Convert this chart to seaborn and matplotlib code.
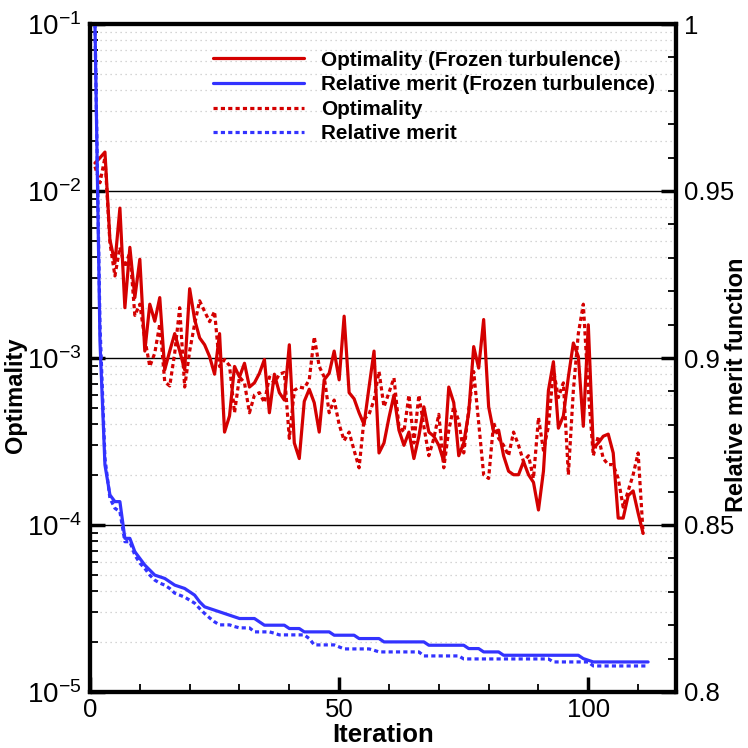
import numpy as np
import pandas as pd
import matplotlib
matplotlib.use("Agg")
import matplotlib.pyplot as plt
import seaborn as sns
from matplotlib.ticker import LogLocator, FixedLocator, MultipleLocator, NullFormatter, LogFormatterMathtext, FuncFormatter
from matplotlib.lines import Line2D

sns.set_theme(style="white")
plt.rcParams['font.family'] = ['Liberation Sans', 'DejaVu Sans']
plt.rcParams['mathtext.fontset'] = 'custom'
plt.rcParams['mathtext.rm'] = 'Liberation Sans'
plt.rcParams['mathtext.it'] = 'Liberation Sans'
plt.rcParams['mathtext.bf'] = 'Liberation Sans:bold'
plt.rcParams['mathtext.default'] = 'regular'

# ---------------- data ----------------
iter_red = np.arange(1, 112)
opt_frozen = [0.0147, 0.0158, 0.0171, 0.0051, 0.0037, 0.0079, 0.0020, 0.0046, 0.0023, 0.0039,
              0.0011, 0.0021, 0.00166, 0.0023, 0.00085, 0.0011, 0.0014, 0.0011, 0.00085, 0.0026,
              0.0017, 0.00132, 0.0012, 0.00102, 0.0008, 0.0014, 0.00036, 0.00045, 0.00089, 0.00077,
              0.00093, 0.00067, 0.00071, 0.00081, 0.00098, 0.00047, 0.0008, 0.00062, 0.00056, 0.0012,
              0.00031, 0.00025, 0.00055, 0.00065, 0.00054, 0.00036, 0.00074, 0.00081, 0.0011, 0.00074,
              0.00178, 0.00062, 0.00057, 0.00047, 0.0004, 0.00067, 0.0011, 0.00027, 0.00031, 0.00044,
              0.0006, 0.00037, 0.0003, 0.00036, 0.00025, 0.00034, 0.00051, 0.00036, 0.00034, 0.0003,
              0.00024, 0.00067, 0.00054, 0.00026, 0.00031, 0.00047, 0.00117, 0.00087, 0.0017, 0.00051,
              0.00036, 0.00037, 0.00026, 0.00021, 0.0002, 0.0002, 0.00024, 0.0002, 0.00018, 0.000123,
              0.00021, 0.00064, 0.00095, 0.00038, 0.00045, 0.00077, 0.00123, 0.00102, 0.00039, 0.00158,
              0.00029, 0.00031, 0.00034, 0.00035, 0.00027, 0.00011, 0.00011, 0.00015, 0.00016, 0.000118,
              0.000089]
opt_full = [0.014, 0.0112, 0.0159, 0.0049, 0.0031, 0.0046, 0.0035, 0.0043, 0.0018, 0.0021,
            0.0013, 0.00089, 0.00107, 0.0016, 0.00072, 0.00068, 0.00107, 0.002, 0.00067, 0.0011,
            0.0016, 0.0022, 0.0019, 0.00165, 0.0019, 0.00089, 0.00098, 0.0009, 0.00047, 0.00077,
            0.00071, 0.00047, 0.0006, 0.00062, 0.00054, 0.00077, 0.00071, 0.0008, 0.00082, 0.00033,
            0.00064, 0.00067, 0.00066, 0.00074, 0.00134, 0.00089, 0.00077, 0.00047, 0.00056, 0.0004,
            0.00032, 0.00036, 0.00028, 0.00022, 0.00043, 0.00046, 0.00056, 0.00083, 0.00051, 0.00062,
            0.00076, 0.00039, 0.00036, 0.0006, 0.00031, 0.0006, 0.00039, 0.00026, 0.00033, 0.00046,
            0.00022, 0.00037, 0.00051, 0.00042, 0.00027, 0.00049, 0.00083, 0.00041, 0.0002, 0.00019,
            0.00041, 0.00033, 0.0003, 0.00026, 0.00036, 0.0003, 0.00024, 0.00026, 0.00019, 0.00044,
            0.00028, 0.00039, 0.00085, 0.00058, 0.00071, 0.0002, 0.00064, 0.0014, 0.0021, 0.00064,
            0.00026, 0.00034, 0.00025, 0.00023, 0.00023, 0.00019, 0.000128, 0.00016, 0.0002, 0.00027,
            0.000089]

iter_blue = np.arange(1, 113)
merit_frozen = [1.0, 0.905, 0.868, 0.859, 0.857, 0.857, 0.846, 0.846, 0.842, 0.840,
                0.838, 0.8365, 0.835, 0.8345, 0.834, 0.833, 0.832, 0.8315, 0.831, 0.830,
                0.829, 0.827, 0.8255, 0.825, 0.8245, 0.824, 0.8235, 0.823, 0.8225, 0.822,
                0.822, 0.822, 0.822, 0.821, 0.820, 0.820, 0.820, 0.820, 0.820, 0.819,
                0.819, 0.819, 0.818, 0.818, 0.818, 0.818, 0.818, 0.818, 0.817, 0.817,
                0.817, 0.817, 0.817, 0.816, 0.816, 0.816, 0.816, 0.816, 0.815, 0.815,
                0.815, 0.815, 0.815, 0.815, 0.815, 0.815, 0.815, 0.814, 0.814, 0.814,
                0.814, 0.814, 0.814, 0.814, 0.814, 0.813, 0.813, 0.813, 0.812, 0.812,
                0.812, 0.812, 0.811, 0.811, 0.811, 0.811, 0.811, 0.811, 0.811, 0.811,
                0.811, 0.811, 0.811, 0.811, 0.811, 0.811, 0.811, 0.811, 0.810, 0.8095,
                0.809, 0.809, 0.809, 0.809, 0.809, 0.809, 0.809, 0.809, 0.809, 0.809,
                0.809, 0.809]
merit_full = [1.0, 0.91, 0.87, 0.858, 0.855, 0.854, 0.845, 0.845, 0.841, 0.8386,
              0.837, 0.835, 0.8335, 0.8326, 0.832, 0.831, 0.8296, 0.829, 0.8284, 0.8275,
              0.8266, 0.825, 0.8235, 0.8222, 0.821, 0.8201, 0.8201, 0.8201, 0.8196, 0.8192,
              0.8192, 0.8192, 0.818, 0.818, 0.818, 0.818, 0.8176, 0.8171, 0.8171, 0.8171,
              0.8171, 0.8171, 0.8171, 0.816, 0.8141, 0.8141, 0.8141, 0.8141, 0.8141, 0.8135,
              0.8129, 0.8129, 0.8129, 0.8129, 0.8129, 0.8129, 0.8125, 0.812, 0.812, 0.812,
              0.812, 0.812, 0.812, 0.812, 0.812, 0.812, 0.8108, 0.8108, 0.8108, 0.8108,
              0.8108, 0.8108, 0.8108, 0.8108, 0.8099, 0.8099, 0.8099, 0.8099, 0.8099, 0.8099,
              0.8099, 0.8099, 0.8099, 0.8099, 0.8099, 0.8099, 0.8099, 0.8099, 0.8099, 0.8099,
              0.8099, 0.8099, 0.809, 0.809, 0.809, 0.809, 0.809, 0.809, 0.809, 0.809,
              0.8078, 0.8078, 0.8078, 0.8078, 0.8078, 0.8078, 0.8078, 0.8078, 0.8078, 0.8078,
              0.8078, 0.8078]

labels = ["Optimality (Frozen turbulence)", "Relative merit (Frozen turbulence)",
          "Optimality", "Relative merit"]
right_ticks = [0.8, 0.85, 0.9, 0.95, 1.0]
right_tick_labels = ["0.8", "0.85", "0.9", "0.95", "1"]

RED = "#D40000"
BLUE = "#3333FF"
LW = 2.3
DOT = (0, (1.3, 1.0))

df_red = pd.DataFrame({"it": iter_red, "frozen": opt_frozen, "full": opt_full})
df_blue = pd.DataFrame({"it": iter_blue, "frozen": merit_frozen, "full": merit_full})

# ---------------- figure ----------------
fig = plt.figure(figsize=(7.48, 7.48), dpi=100)
ax = fig.add_axes([90 / 748, 56 / 748, 586 / 748, 668 / 748])
ax2 = ax.twinx()

ax.set_yscale("log")

ax.yaxis.grid(True, which="major", color="black", linewidth=1.0, linestyle="-")
ax.yaxis.grid(True, which="minor", color="#c8c8c8", linewidth=0.9, linestyle=(0, (1, 3)))
ax.xaxis.grid(False)
ax.set_axisbelow(True)

sns.lineplot(data=df_red, x="it", y="frozen", ax=ax, color=RED, linewidth=LW, estimator=None)
sns.lineplot(data=df_red, x="it", y="full", ax=ax, color=RED, linewidth=LW, estimator=None,
             linestyle=DOT)
sns.lineplot(data=df_blue, x="it", y="frozen", ax=ax2, color=BLUE, linewidth=LW, estimator=None)
sns.lineplot(data=df_blue, x="it", y="full", ax=ax2, color=BLUE, linewidth=LW, estimator=None,
             linestyle=DOT)
ax.set_ylim(1e-5, 1e-1)
ax2.set_ylim(0.8, 1.0)
ax.set_xlim(0, 117.6)

# ticks
ax.yaxis.set_major_locator(LogLocator(base=10, numticks=10))
ax.yaxis.set_minor_locator(LogLocator(base=10, subs=np.arange(2, 10), numticks=100))
ax.yaxis.set_major_formatter(LogFormatterMathtext())
ax.yaxis.set_minor_formatter(NullFormatter())
ax.xaxis.set_major_locator(FixedLocator([0, 50, 100]))
ax.xaxis.set_minor_locator(MultipleLocator(10))

ax2.yaxis.set_major_locator(FixedLocator(right_ticks))
ax2.yaxis.set_major_formatter(FuncFormatter(lambda v, p: right_tick_labels[right_ticks.index(round(v, 2))]
                                            if round(v, 2) in right_ticks else ""))
ax2.yaxis.set_minor_locator(MultipleLocator(0.01))

TS = 18.5
ax.tick_params(axis="x", which="major", direction="in", length=11, width=2.5,
               labelsize=TS, color="black", labelcolor="black", pad=4)
ax.tick_params(axis="y", which="major", direction="in", length=11, width=2.5,
               labelsize=20, color="black", labelcolor="black", pad=6)
ax.tick_params(axis="both", which="minor", direction="in", length=6, width=1.3, color="black")
ax.tick_params(axis="y", which="both", left=True, right=False)
ax.tick_params(axis="x", which="both", bottom=True, top=False)
ax2.tick_params(axis="y", which="major", direction="in", length=11, width=2.5,
                labelsize=TS, color="black", labelcolor="black", pad=6, right=True)
ax2.tick_params(axis="y", which="minor", direction="in", length=6, width=1.3, color="black",
                right=True)

for a in (ax, ax2):
    for s in a.spines.values():
        s.set_color("black")
        s.set_linewidth(3)
        s.set_visible(True)

ax.set_xlabel("Iteration", fontsize=18.5, fontweight="bold", color="black")
ax.xaxis.set_label_coords(0.5, -(735 - 692) / 668, transform=ax.transAxes)
ax.xaxis.label.set_va("center")
ax.set_ylabel("Optimality", fontsize=17, fontweight="bold", color="black")
ax.yaxis.set_label_coords(-(90 - 16) / 586, (692 - 395) / 668)
ax.yaxis.label.set_va("center")
ax2.set_ylabel("Relative merit function", fontsize=17, fontweight="bold", color="black")
ax2.yaxis.set_label_coords(1 + (737 - 676) / 586, (692 - 385) / 668)
ax2.yaxis.label.set_va("center")

handles = [Line2D([], [], color=RED, linewidth=LW),
           Line2D([], [], color=BLUE, linewidth=LW),
           Line2D([], [], color=RED, linewidth=LW, linestyle=DOT),
           Line2D([], [], color=BLUE, linewidth=LW, linestyle=DOT)]
leg = ax2.legend(handles, labels, loc="upper left", bbox_to_anchor=(0.21, 0.960),
                 frameon=False, prop={"family": ["Liberation Sans"], "weight": "bold", "size": 14.9},
                 handlelength=4.4, handletextpad=0.8, labelspacing=0.27,
                 borderpad=0, borderaxespad=0)
for t in leg.get_texts():
    t.set_color("black")

fig.savefig("out.png", dpi=100, facecolor="white")
